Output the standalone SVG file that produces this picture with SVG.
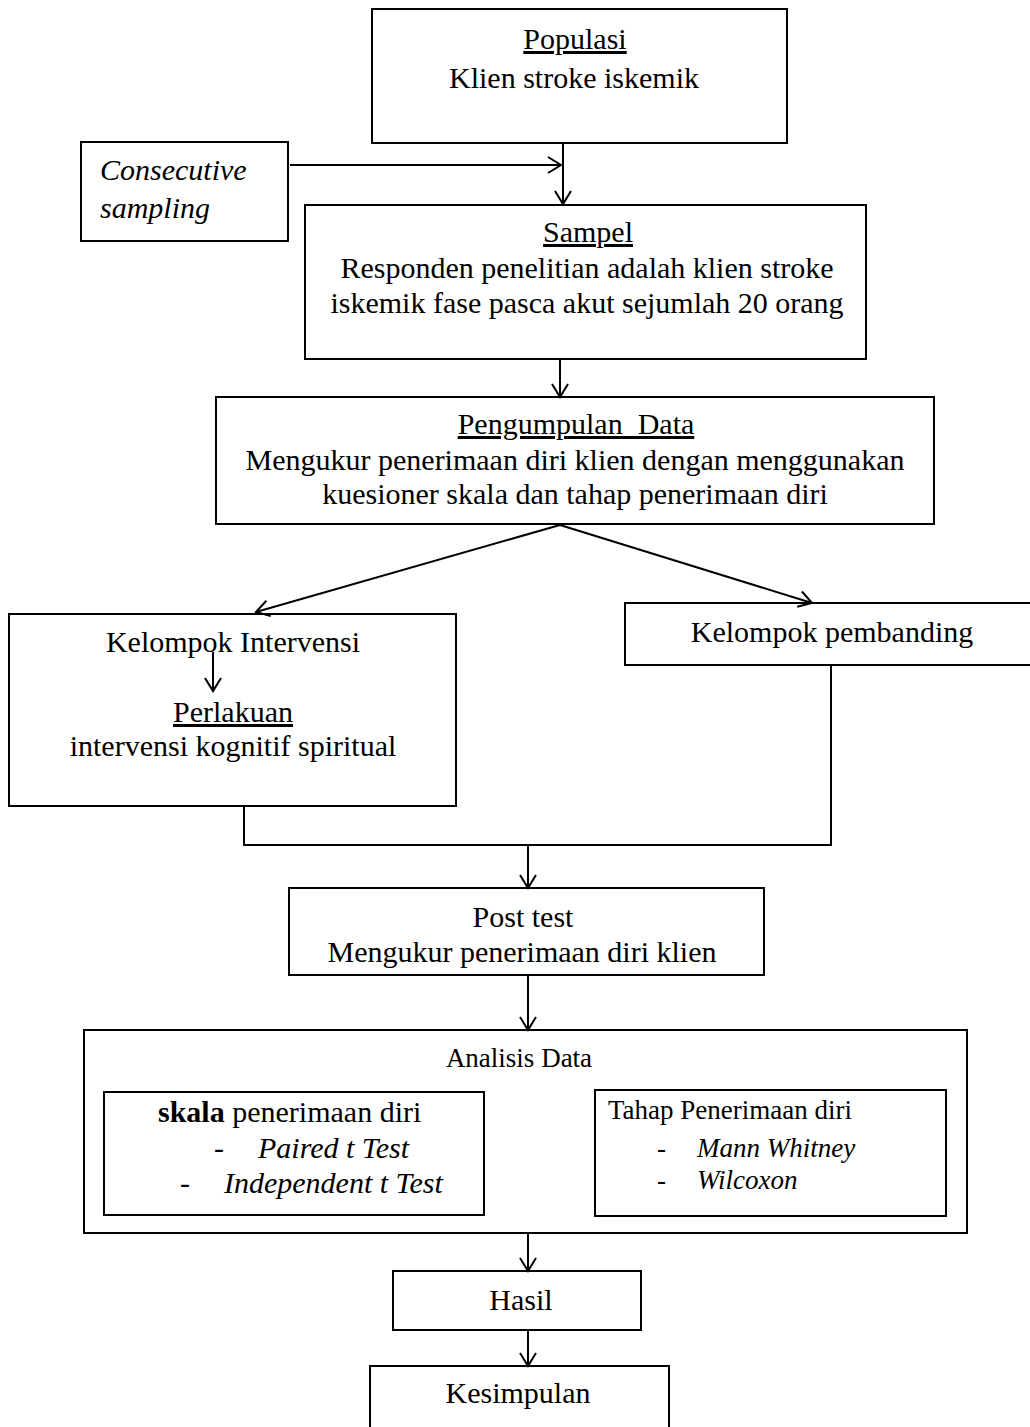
<svg xmlns="http://www.w3.org/2000/svg" width="1030" height="1427" viewBox="0 0 1030 1427">
<style>
.box{fill:#fff;stroke:#000;stroke-width:2}
.t{font-family:"Liberation Serif","Times New Roman",serif;font-size:30px;fill:#000}
.s{font-family:"Liberation Serif","Times New Roman",serif;font-size:27px;fill:#000}
.c{text-anchor:middle}
.u{text-decoration:underline}
.i{font-style:italic}
.b{font-weight:bold}
.ln{fill:none;stroke:#000;stroke-width:2}
</style>
<defs>
<marker id="ah" markerWidth="18" markerHeight="20" refX="15" refY="10" orient="auto" markerUnits="userSpaceOnUse">
<path d="M2,2 L15,10 L2,18" fill="none" stroke="#000" stroke-width="2"/>
</marker>
</defs>
<rect width="1030" height="1427" fill="#fff"/>
<g id="populasi">
<rect class="box" x="372" y="9" width="415" height="134"/>
<text class="t c u" x="575" y="49">Populasi</text>
<text class="t c" x="574" y="88">Klien stroke iskemik</text>
</g>
<g id="consecutive">
<rect class="box" x="81" y="142" width="207" height="99"/>
<text class="t i" x="100" y="180">Consecutive</text>
<text class="t i" x="100" y="218">sampling</text>
</g>
<g id="sampel">
<rect class="box" x="305" y="205" width="561" height="154"/>
<text class="t c u" x="588" y="242">Sampel</text>
<text class="t c" x="587" y="278">Responden penelitian adalah klien stroke</text>
<text class="t c" x="587" y="313">iskemik fase pasca akut sejumlah 20 orang</text>
</g>
<g id="pengumpulan">
<rect class="box" x="216" y="397" width="718" height="127"/>
<text class="t c u" x="576" y="434" xml:space="preserve">Pengumpulan  Data</text>
<text class="t c" x="575" y="470">Mengukur penerimaan diri klien dengan menggunakan</text>
<text class="t c" x="575" y="504">kuesioner skala dan tahap penerimaan diri</text>
</g>
<g id="intervensi">
<rect class="box" x="9" y="614" width="447" height="192"/>
<text class="t c" x="233" y="652">Kelompok Intervensi</text>
<line class="ln" x1="213" y1="652" x2="213" y2="691" marker-end="url(#ah)"/>
<text class="t c u" x="233" y="722">Perlakuan</text>
<text class="t c" x="233" y="756">intervensi kognitif spiritual</text>
</g>
<g id="pembanding">
<rect class="box" x="625" y="603" width="430" height="62"/>
<text class="t c" x="832" y="642">Kelompok pembanding</text>
</g>
<g id="posttest">
<rect class="box" x="289" y="888" width="475" height="87"/>
<text class="t c" x="523" y="927">Post test</text>
<text class="t c" x="522" y="962">Mengukur penerimaan diri klien</text>
</g>
<g id="analisis">
<rect class="box" x="84" y="1030" width="883" height="203"/>
<text class="s c" x="519" y="1067">Analisis Data</text>
</g>
<g id="skala">
<rect class="box" x="104" y="1092" width="380" height="123"/>
<text class="t" x="158" y="1122"><tspan class="b">skala</tspan> penerimaan diri</text>
<text class="t" x="214" y="1158">-</text>
<text class="t i" x="258" y="1158">Paired t Test</text>
<text class="t" x="180" y="1193">-</text>
<text class="t i" x="224" y="1193">Independent t Test</text>
</g>
<g id="tahap">
<rect class="box" x="595" y="1090" width="351" height="126"/>
<text class="s" x="608" y="1119">Tahap Penerimaan diri</text>
<text class="s" x="657" y="1157">-</text>
<text class="s i" x="697" y="1157">Mann Whitney</text>
<text class="s" x="657" y="1189">-</text>
<text class="s i" x="697" y="1189">Wilcoxon</text>
</g>
<g id="hasil">
<rect class="box" x="393" y="1271" width="248" height="59"/>
<text class="t c" x="521" y="1310">Hasil</text>
</g>
<g id="kesimpulan">
<rect class="box" x="370" y="1366" width="299" height="80"/>
<text class="t c" x="518" y="1403">Kesimpulan</text>
</g>
<g id="connectors">
<line class="ln" x1="290" y1="165" x2="561" y2="165" marker-end="url(#ah)"/>
<line class="ln" x1="563" y1="143" x2="563" y2="204" marker-end="url(#ah)"/>
<line class="ln" x1="560" y1="359" x2="560" y2="397" marker-end="url(#ah)"/>
<line class="ln" x1="560" y1="525" x2="256" y2="612" marker-end="url(#ah)"/>
<line class="ln" x1="560" y1="525" x2="812" y2="603" marker-end="url(#ah)"/>
<polyline class="ln" points="244,806 244,845 831,845 831,665"/>
<line class="ln" x1="528" y1="845" x2="528" y2="888" marker-end="url(#ah)"/>
<line class="ln" x1="528" y1="975" x2="528" y2="1030" marker-end="url(#ah)"/>
<line class="ln" x1="528" y1="1233" x2="528" y2="1271" marker-end="url(#ah)"/>
<line class="ln" x1="528" y1="1330" x2="528" y2="1366" marker-end="url(#ah)"/>
</g>
</svg>
